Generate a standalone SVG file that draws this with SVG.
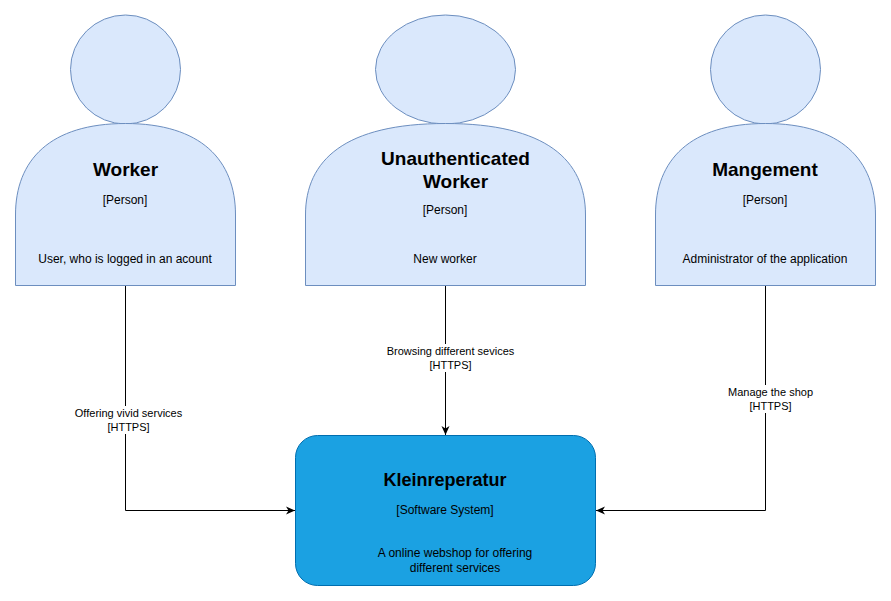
<svg xmlns="http://www.w3.org/2000/svg" width="891" height="601" viewBox="0 0 891 601">
<style>
text{font-family:"Liberation Sans",Arial,sans-serif;text-anchor:middle;fill:#000}
.p{fill:#dae8fc;stroke:#6c8ebf;stroke-width:1}
.t{font-size:19px;font-weight:bold}
.k{font-size:18px;font-weight:bold}
.s{font-size:12px}
.l{font-size:11px}
.c{fill:none;stroke:#000;stroke-width:1}
.lb{fill:#fff}
</style>
<defs><marker id="a" markerWidth="10" markerHeight="10" refX="9" refY="5" orient="auto" markerUnits="userSpaceOnUse"><path d="M0 1L9 5L0 9L2.500 5Z" fill="#000"/></marker></defs>
<rect width="891" height="601" fill="#fff"/>
<g id="connectors">
<path class="c" d="M125.500 286V510.500H295" marker-end="url(#a)"/>
<path class="c" d="M445.500 286V435" marker-end="url(#a)"/>
<path class="c" d="M765.500 286V510.500H596" marker-end="url(#a)"/>
<rect class="lb" x="74" y="406" width="110" height="28"/>
<rect class="lb" x="386" y="344" width="130" height="28"/>
<rect class="lb" x="727" y="385" width="88" height="28"/>
<text class="l" x="128.500" y="417">Offering vivid services</text>
<text class="l" x="128.500" y="431">[HTTPS]</text>
<text class="l" x="450.500" y="355">Browsing different sevices</text>
<text class="l" x="450.500" y="369">[HTTPS]</text>
<text class="l" x="770.500" y="396">Manage the shop</text>
<text class="l" x="770.500" y="410">[HTTPS]</text>
</g>
<g id="worker">
<ellipse class="p" cx="125.500" cy="69.500" rx="55" ry="54.500"/>
<path class="p" d="M15.500 285.500V215C15.500 160 50 123.500 125.500 123.500C201 123.500 235.500 160 235.500 215V285.500Z"/>
<text class="t" x="125.500" y="176">Worker</text>
<text class="s" x="125" y="204">[Person]</text>
<text class="s" x="125" y="263">User, who is logged in an acount</text>
</g>
<g id="unauth">
<ellipse class="p" cx="445.500" cy="69.500" rx="70" ry="54.500"/>
<path class="p" d="M305.500 285.500V215C305.500 160 345 123.500 445.500 123.500C546 123.500 585.500 160 585.500 215V285.500Z"/>
<text class="t" x="455.500" y="165">Unauthenticated</text>
<text class="t" x="455.500" y="188">Worker</text>
<text class="s" x="445" y="214">[Person]</text>
<text class="s" x="445" y="263">New worker</text>
</g>
<g id="management">
<ellipse class="p" cx="765.500" cy="69.500" rx="55" ry="54.500"/>
<path class="p" d="M655.500 285.500V215C655.500 160 690 123.500 765.500 123.500C841 123.500 875.500 160 875.500 215V285.500Z"/>
<text class="t" x="765" y="176">Mangement</text>
<text class="s" x="765" y="204">[Person]</text>
<text class="s" x="765" y="263">Administrator of the application</text>
</g>
<g id="system">
<rect x="295.500" y="435.500" width="300" height="150" rx="22" fill="#1ba1e2" stroke="#006eaf"/>
<text class="k" x="445" y="486">Kleinreperatur</text>
<text class="s" x="445" y="514">[Software System]</text>
<text class="s" x="455" y="557">A online webshop for offering</text>
<text class="s" x="455" y="572">different services</text>
</g>
</svg>
